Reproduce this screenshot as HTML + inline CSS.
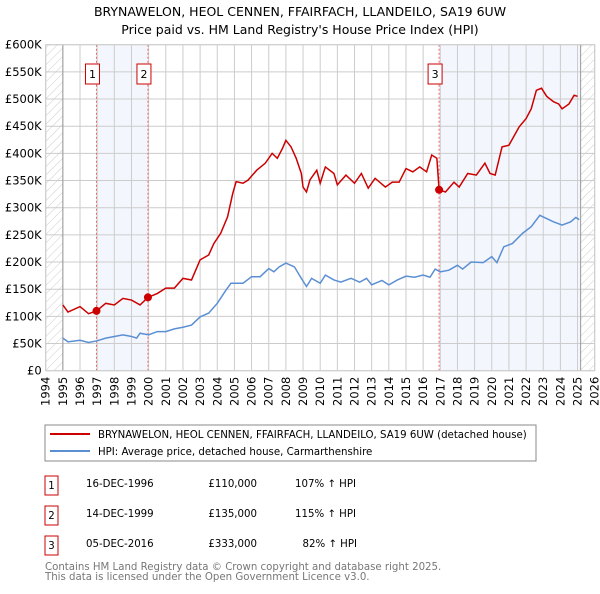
<!DOCTYPE html>
<html><head><meta charset="utf-8">
<style>
body{margin:0;background:#fff;width:600px;height:590px;overflow:hidden;font-family:"DejaVu Sans","Liberation Sans",sans-serif;}
svg text{font-family:"DejaVu Sans","Liberation Sans",sans-serif;}
</style></head><body>
<svg id="c" width="600" height="590">
<defs><pattern id="h" width="6" height="6" patternUnits="userSpaceOnUse" patternTransform="rotate(45)"><line x1="0" y1="0" x2="0" y2="6" stroke="#ccc" stroke-width="1"/></pattern></defs>
<text x="300" y="16" text-anchor="middle" font-size="12.5">BRYNAWELON, HEOL CENNEN, FFAIRFACH, LLANDEILO, SA19 6UW</text>
<text x="300" y="34" text-anchor="middle" font-size="12.5">Price paid vs. HM Land Registry's House Price Index (HPI)</text>
<g id="plot"></g>
<rect x="45" y="425" width="491" height="36" fill="#fff" stroke="#888"/>
<line x1="50" y1="434" x2="90" y2="434" stroke="#cc0000" stroke-width="2"/>
<text x="98" y="438" font-size="10.2">BRYNAWELON, HEOL CENNEN, FFAIRFACH, LLANDEILO, SA19 6UW (detached house)</text>
<line x1="50" y1="451" x2="90" y2="451" stroke="#5b8fd4" stroke-width="2"/>
<text x="98" y="455" font-size="10.2">HPI: Average price, detached house, Carmarthenshire</text>
<g font-size="10.2">
<rect x="45" y="476" width="13" height="19" fill="#fff" stroke="#cc0000"/><text x="51.5" y="489" text-anchor="middle">1</text>
<text x="86" y="487">16-DEC-1996</text><text x="257" y="487" text-anchor="end">£110,000</text><text x="356" y="487" text-anchor="end">107% ↑ HPI</text>
<rect x="45" y="506" width="13" height="19" fill="#fff" stroke="#cc0000"/><text x="51.5" y="519" text-anchor="middle">2</text>
<text x="86" y="517">14-DEC-1999</text><text x="257" y="517" text-anchor="end">£135,000</text><text x="356" y="517" text-anchor="end">115% ↑ HPI</text>
<rect x="45" y="536" width="13" height="19" fill="#fff" stroke="#cc0000"/><text x="51.5" y="549" text-anchor="middle">3</text>
<text x="86" y="547">05-DEC-2016</text><text x="257" y="547" text-anchor="end">£333,000</text><text x="357" y="547" text-anchor="end">82% ↑ HPI</text>
</g>
<text x="45" y="570" font-size="10.2" fill="#777">Contains HM Land Registry data © Crown copyright and database right 2025.</text>
<text x="45" y="580" font-size="10.2" fill="#777">This data is licensed under the Open Government Licence v3.0.</text>
</svg>
<script>
const redYears=[1995.0,1995.3,1996.0,1996.5,1996.96,1997.5,1998.0,1998.5,1999.0,1999.5,1999.96,2000.5,2001.0,2001.5,2002.0,2002.5,2003.0,2003.5,2003.8,2004.2,2004.6,2004.9,2005.1,2005.5,2005.8,2006.3,2006.8,2007.2,2007.5,2007.8,2008.0,2008.3,2008.6,2008.9,2009.0,2009.2,2009.4,2009.8,2010.0,2010.3,2010.8,2011.0,2011.5,2012.0,2012.4,2012.8,2013.2,2013.8,2014.2,2014.6,2015.0,2015.4,2015.8,2016.2,2016.5,2016.8,2016.93,2017.3,2017.8,2018.1,2018.6,2019.1,2019.6,2019.9,2020.2,2020.6,2021.0,2021.6,2022.0,2022.3,2022.6,2022.9,2023.2,2023.6,2023.9,2024.1,2024.5,2024.8,2025.0];
const redValues=[121,108,118,105,110,124,121,133,130,121,135,142,152,152,170,167,204,213,234,253,283,326,348,345,351,369,382,400,391,409,424,412,391,363,338,329,351,369,345,375,363,342,360,345,363,336,354,338,347,347,372,366,375,366,397,391,333,329,347,338,363,360,382,363,360,412,415,449,464,482,516,520,505,495,491,482,491,507,505];
const blueYears=[1995.0,1995.3,1996.0,1996.5,1997.0,1997.5,1998.0,1998.5,1999.0,1999.3,1999.5,2000.0,2000.5,2001.0,2001.5,2002.0,2002.5,2003.0,2003.5,2004.0,2004.5,2004.8,2005.5,2006.0,2006.5,2007.0,2007.3,2007.6,2008.0,2008.5,2008.9,2009.2,2009.5,2010.0,2010.3,2010.8,2011.2,2011.8,2012.3,2012.7,2013.0,2013.6,2014.0,2014.5,2015.0,2015.5,2016.0,2016.4,2016.7,2017.0,2017.5,2018.0,2018.3,2018.8,2019.5,2020.0,2020.3,2020.7,2021.2,2021.8,2022.3,2022.8,2023.2,2023.6,2024.1,2024.6,2024.9,2025.1];
const blueValues=[60,53,56,52,55,60,63,66,63,60,69,66,72,72,77,80,84,99,106,124,148,161,161,173,173,188,182,191,198,191,170,155,170,161,176,167,163,170,163,170,158,166,158,167,174,172,176,172,187,182,185,194,187,200,199,210,199,228,234,253,265,286,280,274,268,274,282,278];
const saleYears=[1996.96,1999.96,2016.93];
const saleValues=[110,135,333];
const saleLabels=['1','2','3'];
const yTicks=[0,50,100,150,200,250,300,350,400,450,500,550,600];
const yTickLabels=['£0','£50K','£100K','£150K','£200K','£250K','£300K','£350K','£400K','£450K','£500K','£550K','£600K'];
const xTicks=[1994,1995,1996,1997,1998,1999,2000,2001,2002,2003,2004,2005,2006,2007,2008,2009,2010,2011,2012,2013,2014,2015,2016,2017,2018,2019,2020,2021,2022,2023,2024,2025,2026];

const L=45.7,R=594.7,T=44.7,B=370.7,NS='http://www.w3.org/2000/svg';
const X=y=>L+(y-1994)/32*(R-L);
const Y=v=>B-v/600*(B-T);
const g=document.getElementById('plot');
function el(t,a,p){const e=document.createElementNS(NS,t);for(const k in a)e.setAttribute(k,a[k]);(p||g).appendChild(e);return e;}
let e;
e=el('rect',{x:L,y:T,width:R-L,height:B-T,fill:'#fff'});


e=el('rect',{x:X(saleYears[0]),y:T,width:X(saleYears[1])-X(saleYears[0]),height:B-T,fill:'#eef3fc',opacity:0.7});


e=el('rect',{x:X(saleYears[2]),y:T,width:X(2025.18)-X(saleYears[2]),height:B-T,fill:'#eef3fc',opacity:0.7});


e=el('rect',{x:L,y:T,width:X(1995)-L,height:B-T,fill:'url(#h)'});


e=el('rect',{x:X(2025.18),y:T,width:R-X(2025.18),height:B-T,fill:'url(#h)'});


xTicks.forEach(t=>{
  e=el('line',{x1:X(t),x2:X(t),y1:T,y2:B,stroke:'#ccc','stroke-width':1});
  
  
  e=el('text',{x:0,y:0,'font-size':11.5,'text-anchor':'end',transform:`translate(${X(t)+4},${B+6}) rotate(-90)`});
  e.textContent=t;
  
  
});
yTicks.forEach((t,i)=>{
  e=el('line',{x1:L,x2:R,y1:Y(t),y2:Y(t),stroke:'#ccc','stroke-width':1});
  
  
  e=el('text',{x:L-4,y:Y(t)+4,'font-size':11.5,'text-anchor':'end'});
  e.textContent=yTickLabels[i];
  
  
});
e=el('line',{x1:X(1995),x2:X(1995),y1:T,y2:B,stroke:'#999'});


e=el('line',{x1:X(2025.18),x2:X(2025.18),y1:T,y2:B,stroke:'#999'});


saleYears.forEach((s,i)=>{
  e=el('line',{x1:X(s),x2:X(s),y1:T,y2:B,stroke:'#e66','stroke-dasharray':'2,2'});
  
  
});
e=el('polyline',{points:blueYears.map((y,i)=>X(y)+','+Y(blueValues[i])).join(' '),fill:'none',stroke:'#5b8fd4','stroke-width':1.5});


e=el('polyline',{points:redYears.map((y,i)=>X(y)+','+Y(redValues[i])).join(' '),fill:'none',stroke:'#cc0000','stroke-width':1.5});


saleYears.forEach((s,i)=>{
  e=el('circle',{cx:X(s),cy:Y(saleValues[i]),r:4,fill:'#cc0000'});
  
  
  e=el('rect',{x:X(s)-11,y:64,width:14,height:20,fill:'#fff',stroke:'#cc0000'});
  
  
  e=el('text',{x:X(s)-4,y:78,'font-size':11,'text-anchor':'middle'});
  e.textContent=saleLabels[i];
  
  
});
e=el('rect',{x:L,y:T,width:R-L,height:B-T,fill:'none',stroke:'#ccc'});


</script>
</body></html>
